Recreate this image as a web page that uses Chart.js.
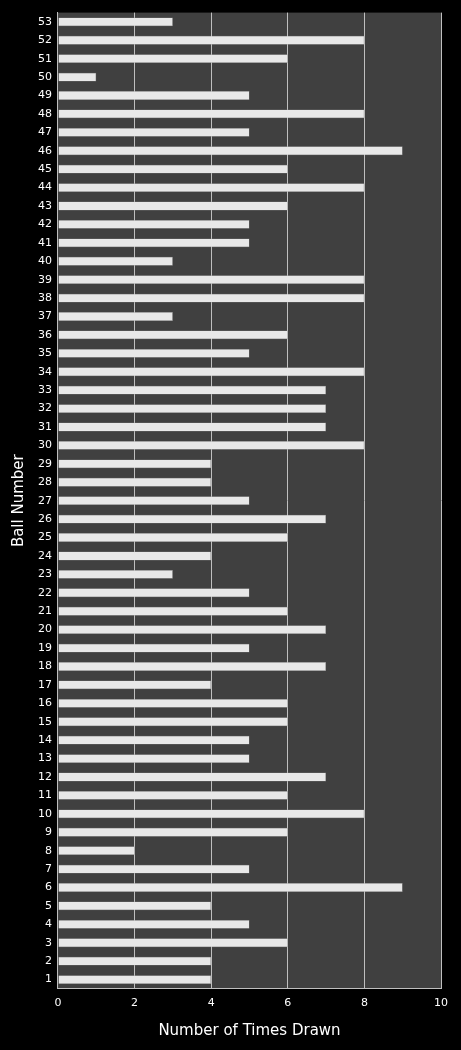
<!DOCTYPE html>
<html><head><meta charset="utf-8">
<script src="https://cdn.jsdelivr.net/npm/chart.js@4"></script>
<style>html,body{margin:0;padding:0;background:#000;}#wrap{width:461px;height:1050px;}</style>
</head><body><div id="wrap"><canvas id="c"></canvas></div>
<script>
const ballNumbers = Array.from({length:53},(_,i)=>String(i+1));
const timesDrawn = [4,4,6,5,4,9,5,2,6,8,6,7,5,5,6,6,4,7,5,7,6,5,3,4,6,7,5,4,4,8,7,7,7,8,5,6,3,8,8,3,5,5,6,8,6,9,5,8,5,1,6,8,3];
const xTicks = [0,2,4,6,8,10];

const plotBg = {id:'plotBg',beforeDraw(c){const a=c.chartArea,x=c.ctx;x.save();x.fillStyle='#404040';x.fillRect(a.left,a.top,a.right-a.left,a.bottom-a.top);x.restore();}};

function barFill(ctx){
  const el = ctx.chart.getDatasetMeta(0).data[ctx.dataIndex];
  if(!el || !isFinite(el.y) || !el.height) return '#e8e8e8';
  const g = ctx.chart.ctx.createLinearGradient(0, el.y-el.height/2, 0, el.y+el.height/2);
  g.addColorStop(0,'#a0a0a0'); g.addColorStop(0.35,'#ffffff'); g.addColorStop(0.6,'#f0f0f0'); g.addColorStop(1,'#7a7a7a');
  return g;
}

new Chart(document.getElementById('c'),{
  type:'bar',
  data:{labels:ballNumbers,datasets:[{data:timesDrawn,backgroundColor:barFill,borderColor:'#888',borderWidth:0.5,barPercentage:0.48,categoryPercentage:1}]},
  options:{indexAxis:'y',responsive:true,maintainAspectRatio:false,animation:false,
    layout:{padding:{top:8,right:20,left:6,bottom:6}},
    plugins:{legend:{display:false},tooltip:{enabled:false}},
    scales:{
      x:{min:0,max:10,afterBuildTicks:s=>{s.ticks=xTicks.map(v=>({value:v}));},
        grid:{color:'#bfbfbf',drawTicks:false,lineWidth:1},border:{color:'#bfbfbf'},
        ticks:{color:'#fff',font:{family:'DejaVu Sans',size:11},padding:8},
        title:{display:true,text:'Number of Times Drawn',color:'#fff',font:{family:'DejaVu Sans',size:15},padding:{top:4}}},
      y:{reverse:true,grid:{display:false,drawTicks:false},border:{color:'#bfbfbf'},
        ticks:{color:'#fff',font:{family:'DejaVu Sans',size:11},padding:6,autoSkip:false},
        title:{display:true,text:'Ball Number',color:'#fff',font:{family:'DejaVu Sans',size:15}}}
    }},
  plugins:[plotBg]
});
</script></body></html>
